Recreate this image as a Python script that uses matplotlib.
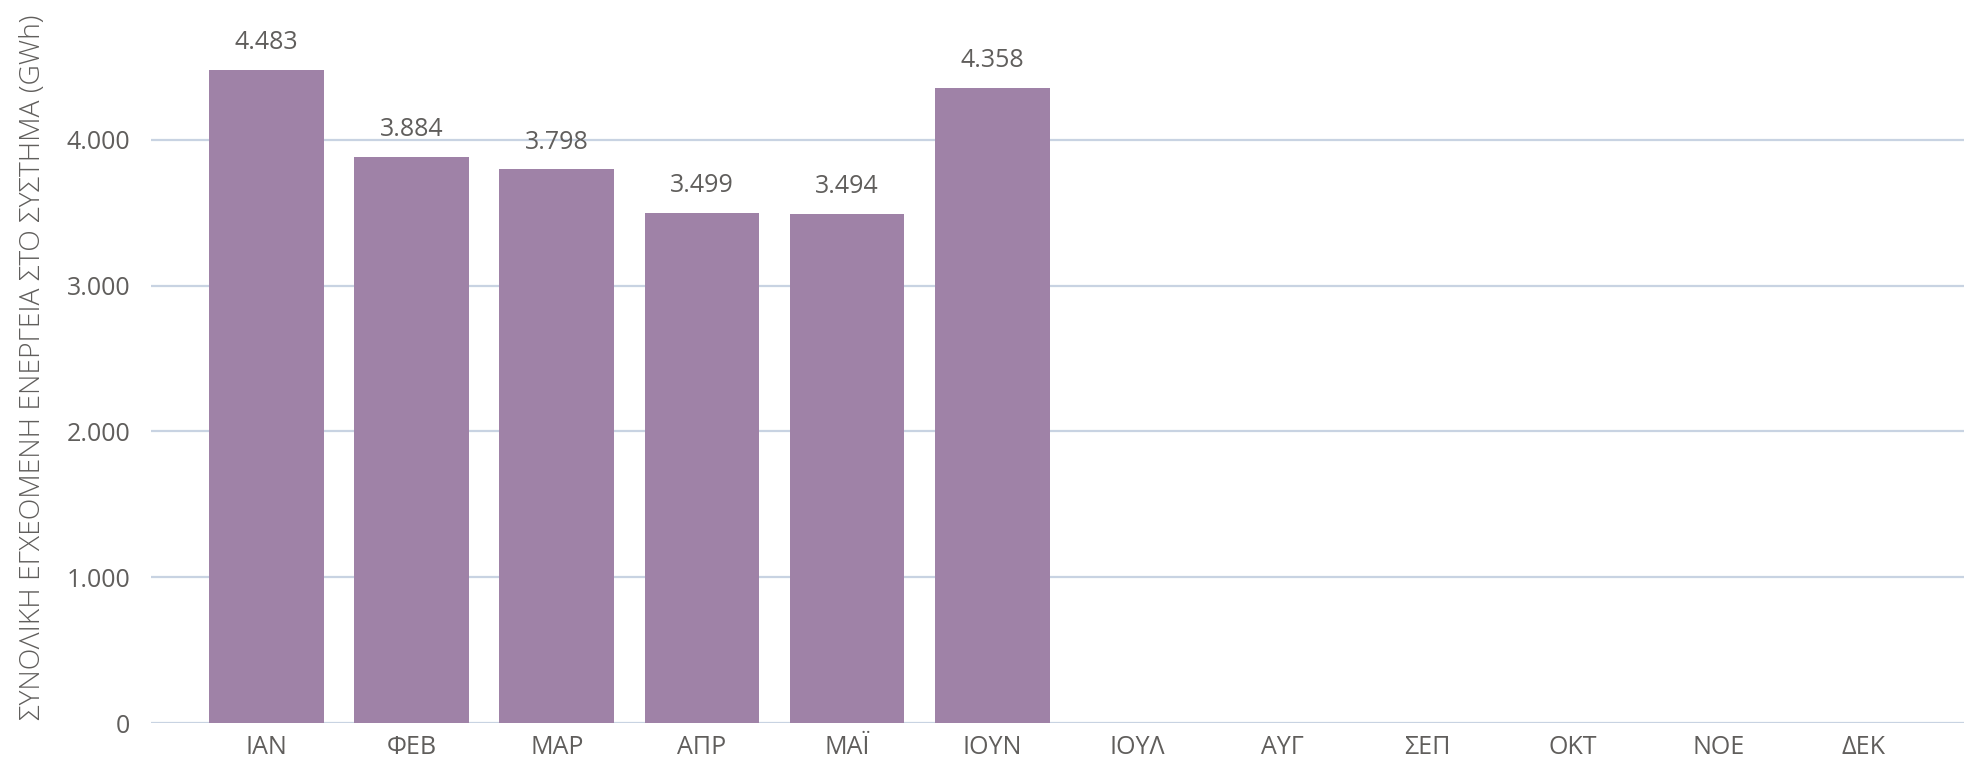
import numpy as np
import matplotlib
matplotlib.use("Agg")
import matplotlib.pyplot as plt

# monthly energy injected into the system (GWh)
months = ["ΙΑΝ", "ΦΕΒ", "ΜΑΡ", "ΑΠΡ", "ΜΑΪ", "ΙΟΥΝ",
          "ΙΟΥΛ", "ΑΥΓ", "ΣΕΠ", "ΟΚΤ", "ΝΟΕ", "ΔΕΚ"]
energy = [4483, 3884, 3798, 3499, 3494, 4358]
yticks = [0, 1000, 2000, 3000, 4000]
ylabel = "ΣΥΝΟΛΙΚΗ ΕΓΧΕΟΜΕΝΗ ΕΝΕΡΓΕΙΑ ΣΤΟ ΣΥΣΤΗΜΑ (GWh)"

bar_color = "#9f82a7"
grid_color = "#c8d3e2"
text_color = "#605e5c"

plt.rcParams["font.family"] = ["Open Sans", "DejaVu Sans"]


def fmt(v):
    # greek style thousands separator
    return "{:,}".format(int(v)).replace(",", ".")


fig = plt.figure(figsize=(19.65, 7.57), dpi=100)
ax = fig.add_axes([0.0768, 0.0449, 0.9232, 0.9551])

x = np.arange(len(months))
bars = ax.bar(x[:len(energy)], energy, width=0.79, color=bar_color, linewidth=0, zorder=2)

for b, v in zip(bars, energy):
    ax.text(b.get_x() + b.get_width() / 2, v + 100, fmt(v), ha="center", va="bottom",
            fontsize=18, color=text_color)

ax.set_xlim(-0.795, 11.70)
ax.set_ylim(0, 4960)
ax.set_xticks(x)
ax.set_xticklabels(months)
ax.set_yticks(yticks)
ax.set_yticklabels([fmt(t) for t in yticks])
ax.tick_params(axis="both", length=0, labelsize=18, labelcolor=text_color)
ax.tick_params(axis="y", pad=15)
ax.tick_params(axis="x", pad=8.5)

ax.yaxis.grid(True, color=grid_color, linewidth=1.6, zorder=0)
ax.set_axisbelow(True)
for s in ["top", "right", "left", "bottom"]:
    ax.spines[s].set_visible(False)

fig.text(33 / 1965, 0.515, ylabel, rotation=90, ha="center", va="center",
         fontsize=20.3, fontweight="light", color=text_color)

fig.savefig("out.png", dpi=100)
